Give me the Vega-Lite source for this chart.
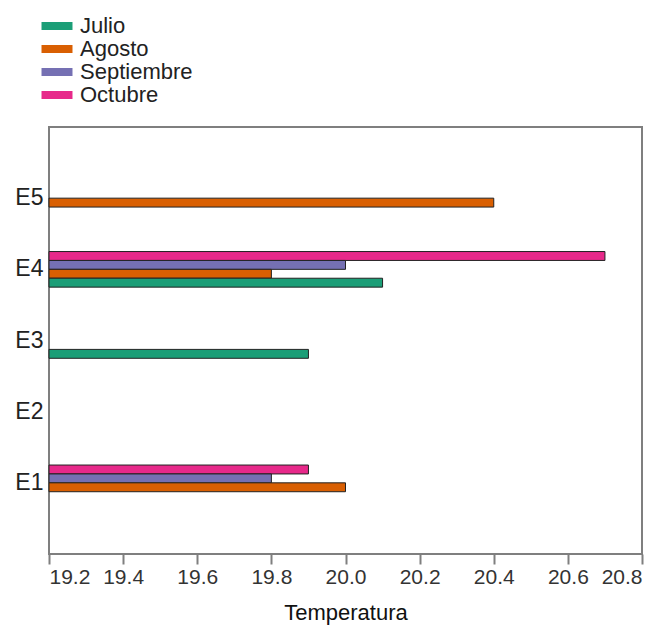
{
  "$schema": "https://vega.github.io/schema/vega-lite/v6.json",
  "width": 593,
  "height": 427,
  "autosize": {"type": "none"},
  "padding": {"left": 49, "top": 127, "right": 25, "bottom": 72},
  "background": "white",
  "config": {
    "font": "Liberation Sans",
    "view": {"stroke": "#7f7f7f", "strokeWidth": 2},
    "axis": {"grid": false, "domain": false}
  },
  "data": {
    "values": [
      {"estacion": "E5", "mes": "Agosto", "temperatura": 20.4},
      {"estacion": "E4", "mes": "Octubre", "temperatura": 20.7},
      {"estacion": "E4", "mes": "Septiembre", "temperatura": 20.0},
      {"estacion": "E4", "mes": "Agosto", "temperatura": 19.8},
      {"estacion": "E4", "mes": "Julio", "temperatura": 20.1},
      {"estacion": "E3", "mes": "Julio", "temperatura": 19.9},
      {"estacion": "E1", "mes": "Octubre", "temperatura": 19.9},
      {"estacion": "E1", "mes": "Septiembre", "temperatura": 19.8},
      {"estacion": "E1", "mes": "Agosto", "temperatura": 20.0}
    ]
  },
  "mark": {"type": "bar", "stroke": "#222222", "strokeWidth": 1},
  "encoding": {
    "y": {
      "field": "estacion",
      "type": "nominal",
      "scale": {"domain": ["E5", "E4", "E3", "E2", "E1"], "paddingInner": 0.5, "paddingOuter": 0.75},
      "axis": {
        "title": null,
        "ticks": false,
        "tickSize": 0,
        "labelPadding": 6,
        "labelFontSize": 23,
        "labelColor": "#222222"
      }
    },
    "yOffset": {
      "field": "mes",
      "type": "nominal",
      "scale": {"domain": ["Octubre", "Septiembre", "Agosto", "Julio"], "paddingInner": 0, "paddingOuter": 0}
    },
    "x": {
      "field": "temperatura",
      "type": "quantitative",
      "scale": {"domain": [19.2, 20.8], "zero": false, "nice": false},
      "axis": {
        "title": "Temperatura",
        "values": [19.2, 19.4, 19.6, 19.8, 20.0, 20.2, 20.4, 20.6, 20.8],
        "format": ".1f",
        "tickSize": 10,
        "tickColor": "#7f7f7f",
        "tickWidth": 2,
        "labelPadding": 2,
        "labelFontSize": 21,
        "labelColor": "#333333",
        "titleFontSize": 22,
        "titleFontWeight": "normal",
        "titleColor": "#111111",
        "titlePadding": 15
      }
    },
    "x2": {"datum": 19.2},
    "color": {
      "field": "mes",
      "type": "nominal",
      "scale": {
        "domain": ["Julio", "Agosto", "Septiembre", "Octubre"],
        "range": ["#1b9e77", "#d95f02", "#7570b3", "#e7298a"]
      },
      "legend": {
        "title": null,
        "orient": "none",
        "legendX": -3,
        "legendY": -112,
        "padding": 0,
        "symbolType": "M-2,-0.52H2V0.52H-2Z",
        "symbolSize": 240,
        "symbolStrokeWidth": 0,
        "symbolOpacity": 1,
        "labelFontSize": 22,
        "labelColor": "#222222",
        "labelOffset": 12,
        "rowPadding": 1,
        "labelExpr": "datum.label == 'Septiembre' ? ' Septiembre' : datum.label"
      }
    }
  }
}
